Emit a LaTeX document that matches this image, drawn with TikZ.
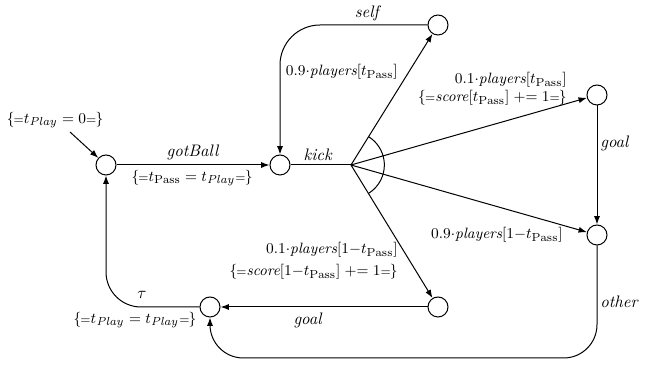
\documentclass[tikz,border=0pt]{standalone}
\usetikzlibrary{arrows.meta}
% slightly larger subscripts in the small labels
\DeclareMathSizes{9}{9}{7}{5}
% assignment brackets {= ... =}
\newcommand\asgn[1]{\ensuremath{\{\mkern-1mu{\scriptstyle=}#1{\scriptstyle=}\mkern-1mu\}}}
\newcommand\tpass{t_{\mathrm{Pass}}}
\newcommand\tplay{t_{\mathit{Play}}}
\begin{document}
\begin{tikzpicture}[x=0.6pt,y=-0.6pt,
  st/.style={circle,draw,line width=0.6pt,minimum size=12pt,inner sep=0pt},
  tr/.style={line width=0.6pt,-{Latex[length=5pt,width=3.6pt]}},
  ln/.style={line width=0.6pt},
  lbl/.style={inner sep=0pt,font=\normalsize},
  prob/.style={inner sep=0pt,font=\small}]
\useasboundingbox (0,0) rectangle (650,365);

% states
\node[st] (a) at (106,165) {};
\node[st] (b) at (280,165) {};
\node[st] (c) at (438,25)  {};
\node[st] (d) at (597,95)  {};
\node[st] (e) at (597,235) {};
\node[st] (f) at (438,307) {};
\node[st] (g) at (210,307) {};
\coordinate (p) at (351,165);
\coordinate (init) at (70,132);
\coordinate (bot) at (0,358);

% transitions
\draw[tr] (init) -- (a);
\draw[tr] (a) -- (b);
\draw[ln] (b) -- (p);
\draw[tr] (p) -- (c);
\draw[tr] (p) -- (d);
\draw[tr] (p) -- (e);
\draw[tr] (p) -- (f);
\draw[ln] (p) ++(-58:20pt) arc[start angle=-58,end angle=58,radius=20pt];
\draw[tr,rounded corners=24pt] (c.west) -- (b |- c) -- (b.north);
\draw[tr] (d) -- (e);
\draw[tr,rounded corners=20pt] (e.south) -- (e |- bot) -- (g |- bot) -- (g.south);
\draw[tr] (f) -- (g);
\draw[tr,rounded corners=21pt] (g.west) -- (a |- g) -- (a.south);

% labels
\node[prob] (l0) at (55,120) {\asgn{\tplay = 0}};
\node[lbl] (l1) at (193,152) {\textit{gotBall}};
\node[prob] (l2) at (192,178) {\asgn{\tpass = \tplay}};
\node[lbl] (l3) at (318,155) {\textit{kick}};
\node[lbl] (l4) at (368,13) {\textit{self}};
\node[prob,anchor=east] (l5) at (398,72) {$0.9{\cdot}\textit{players}[\tpass]$};
\node[prob,anchor=east] (l6) at (567,80) {$0.1{\cdot}\textit{players}[\tpass]$};
\node[prob,anchor=east] (l7) at (567,98) {\asgn{\textit{score}[\tpass] \mathrel{+}= 1}};
\node[lbl,anchor=west] (l8) at (600,143) {\textit{goal}};
\node[prob,anchor=east] (l9) at (563,235) {$0.9{\cdot}\textit{players}[1{-}\tpass]$};
\node[lbl,anchor=west] (l10) at (600,302) {\textit{other}};
\node[prob,anchor=east] (l11) at (398,250) {$0.1{\cdot}\textit{players}[1{-}\tpass]$};
\node[prob,anchor=east] (l12) at (398,272) {\asgn{\textit{score}[1{-}\tpass] \mathrel{+}= 1}};
\node[lbl] (l13) at (308,320) {\textit{goal}};
\node[lbl] (l14) at (142,295) {$\tau$};
\node[prob] (l15) at (135,320) {\asgn{\tplay = \tplay}};
\end{tikzpicture}
\end{document}
